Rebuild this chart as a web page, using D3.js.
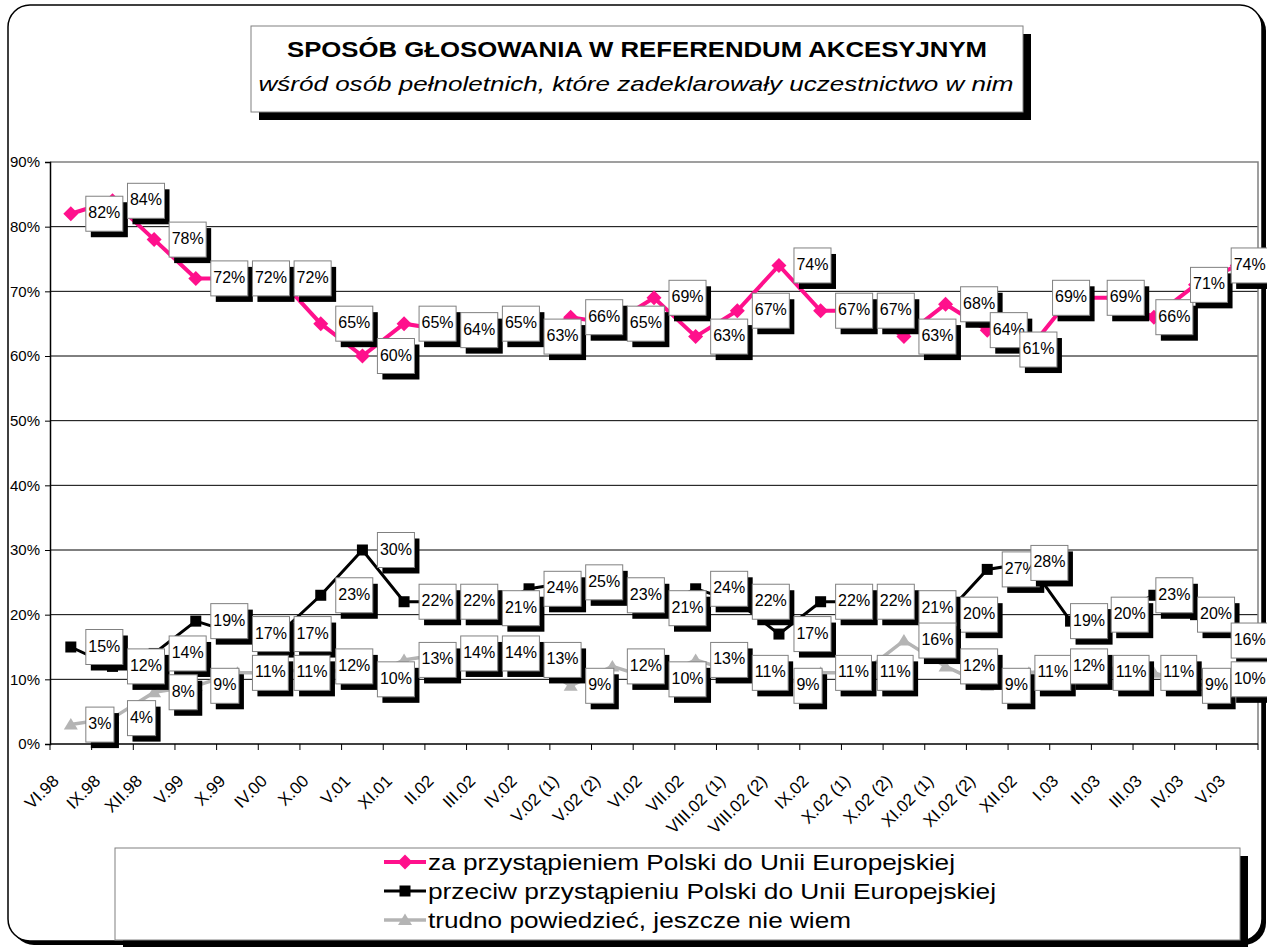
<!DOCTYPE html>
<html>
<head>
<meta charset="utf-8">
<script src="https://cdn.jsdelivr.net/npm/d3@7"></script>
<style>
  body { margin: 0; background: #fff; }
  svg { display: block; font-family: "Liberation Sans", Arial, sans-serif; }
</style>
</head>
<body>
<svg id="chart" width="1267" height="947"></svg>
<script>
var categories = ["VI.98", "IX.98", "XII.98", "V.99", "X.99", "IV.00", "X.00", "V.01", "XI.01",
  "II.02", "III.02", "IV.02", "V.02 (1)", "V.02 (2)", "VI.02", "VII.02", "VIII.02 (1)", "VIII.02 (2)",
  "IX.02", "X.02 (1)", "X.02 (2)", "XI.02 (1)", "XI.02 (2)", "XII.02", "I.03", "II.03", "III.03", "IV.03", "V.03"];

var za      = [82, 84, 78, 72, 72, 72, 65, 60, 65, 64, 65, 63, 66, 65, 69, 63, 67, 74, 67, 67, 63, 68, 64, 61, 69, 69, 66, 71, 74];
var przeciw = [15, 12, 14, 19, 17, 17, 23, 30, 22, 22, 21, 24, 25, 23, 21, 24, 22, 17, 22, 22, 21, 20, 27, 28, 19, 20, 23, 20, 16];
var trudno  = [3, 4, 8, 9, 11, 11, 12, 10, 13, 14, 14, 13, 9, 12, 10, 13, 11, 9, 11, 11, 16, 12, 9, 11, 12, 11, 11, 9, 10];

var yTicks = [0, 10, 20, 30, 40, 50, 60, 70, 80, 90];

var seriesNames = [
  "za przystąpieniem Polski do Unii Europejskiej",
  "przeciw przystąpieniu Polski do Unii Europejskiej",
  "trudno powiedzieć, jeszcze nie wiem"
];

// label boxes sit right of the point; a few near the right edge were moved by hand
var labelNudge = [
  {22: 3, 23: -9, 24: -18, 25: -5, 26: 2, 27: -5, 28: -6},
  {23: 2, 24: 0, 25: -1, 26: 2, 27: 2, 28: -6},
  {23: 6, 24: 0, 25: 1, 26: 7, 27: 7, 28: -6}
];

var series = [
  {name: seriesNames[0], values: za,      color: "#FF108C", width: 4,   marker: "diamond"},
  {name: seriesNames[1], values: przeciw, color: "#000000", width: 3,   marker: "square"},
  {name: seriesNames[2], values: trudno,  color: "#B4B4B4", width: 3.5, marker: "triangle"}
];

var svg = d3.select("#chart");
var plotLeft = 50, plotRight = 1258, plotTop = 162, plotBottom = 744;

var x = d3.scaleBand().domain(categories).range([plotLeft, plotRight]);
var y = d3.scaleLinear().domain([0, 90]).range([plotBottom, plotTop]);
var cx = function(i) { return x(categories[i]) + x.bandwidth() / 2; };

// outer frame
svg.append("rect").attr("x", 12).attr("y", 9).attr("width", 1254).attr("height", 936)
  .attr("rx", 22).attr("fill", "#000");
svg.append("rect").attr("x", 8).attr("y", 5).attr("width", 1254).attr("height", 936)
  .attr("rx", 22).attr("fill", "#fff").attr("stroke", "#000").attr("stroke-width", 1.5);

// title box
svg.append("rect").attr("x", 259).attr("y", 34).attr("width", 772).attr("height", 86).attr("fill", "#000");
svg.append("rect").attr("x", 251).attr("y", 26).attr("width", 772).attr("height", 86)
  .attr("fill", "#fff").attr("stroke", "#808080");
svg.append("text").attr("x", 637).attr("y", 57).attr("text-anchor", "middle")
  .attr("font-size", 22).attr("font-weight", "bold")
  .attr("textLength", 700).attr("lengthAdjust", "spacingAndGlyphs")
  .text("SPOSÓB GŁOSOWANIA W REFERENDUM AKCESYJNYM");
svg.append("text").attr("x", 636).attr("y", 91).attr("text-anchor", "middle")
  .attr("font-size", 21).attr("font-style", "italic")
  .attr("textLength", 755).attr("lengthAdjust", "spacingAndGlyphs")
  .text("wśród osób pełnoletnich, które zadeklarowały uczestnictwo w nim");

// gridlines
svg.append("g").selectAll("line").data(yTicks.filter(function(t) { return t > 0 && t < 90; }))
  .enter().append("line")
  .attr("x1", plotLeft).attr("x2", plotRight)
  .attr("y1", function(d) { return y(d); }).attr("y2", function(d) { return y(d); })
  .attr("stroke", "#000").attr("stroke-width", 1);

// plot border top/right
svg.append("path")
  .attr("d", "M" + plotLeft + "," + y(90) + "H" + plotRight + "V" + plotBottom)
  .attr("fill", "none").attr("stroke", "#808080").attr("stroke-width", 1.5);

// y axis
var yAxis = d3.axisLeft(y).tickValues(yTicks).tickSize(5).tickPadding(5)
  .tickFormat(function(d) { return d + "%"; });
var gy = svg.append("g").attr("transform", "translate(" + plotLeft + ",0)").call(yAxis);
gy.select(".domain").attr("stroke", "#000").attr("stroke-width", 1.5);
gy.selectAll(".tick line").attr("stroke", "#000");
gy.selectAll(".tick text").attr("font-size", 15).attr("fill", "#000")
  .attr("font-family", "'Liberation Sans', Arial, sans-serif");

// x axis line + ticks on category boundaries
svg.append("line").attr("x1", plotLeft).attr("x2", plotRight).attr("y1", plotBottom).attr("y2", plotBottom)
  .attr("stroke", "#000").attr("stroke-width", 1.5);
var bounds = categories.map(function(c) { return x(c); }).concat([plotRight]);
svg.append("g").selectAll("line").data(bounds).enter().append("line")
  .attr("x1", function(d) { return d; }).attr("x2", function(d) { return d; })
  .attr("y1", plotBottom).attr("y2", plotBottom + 6).attr("stroke", "#000");

svg.append("g").selectAll("text").data(categories).enter().append("text")
  .attr("transform", function(d, i) { return "translate(" + (cx(i) - 11) + ",782) rotate(-45)"; })
  .attr("text-anchor", "end").attr("font-size", 17)
  .text(function(d) { return d; });

// markers
function drawMarker(g, type, color, px, py) {
  if (type === "diamond") {
    g.append("path").attr("d", "M" + px + "," + (py - 7.5) + "L" + (px + 7.5) + "," + py + "L" + px + "," + (py + 7.5) + "L" + (px - 7.5) + "," + py + "Z")
      .attr("fill", color);
  } else if (type === "square") {
    g.append("rect").attr("x", px - 5.5).attr("y", py - 5.5).attr("width", 11).attr("height", 11).attr("fill", color);
  } else {
    g.append("path").attr("d", "M" + px + "," + (py - 6.5) + "L" + (px + 7) + "," + (py + 5) + "L" + (px - 7) + "," + (py + 5) + "Z")
      .attr("fill", color);
  }
}

var line = d3.line().x(function(d, i) { return cx(i); }).y(function(d) { return y(d); });

series.forEach(function(s) {
  var g = svg.append("g");
  g.append("path").datum(s.values).attr("d", line)
    .attr("fill", "none").attr("stroke", s.color).attr("stroke-width", s.width)
    .attr("stroke-linejoin", "miter");
  s.values.forEach(function(v, i) { drawMarker(g, s.marker, s.color, cx(i), y(v)); });
});

// data labels
series.forEach(function(s, si) {
  var g = svg.append("g");
  s.values.forEach(function(v, i) {
    var dx = labelNudge[si][i] !== undefined ? labelNudge[si][i] : 15;
    var bx = cx(i) + dx, by = y(v) - 17.5;
    var lg = g.append("g");
    var shadow = lg.append("rect").attr("fill", "#000");
    var box = lg.append("rect").attr("fill", "#fff").attr("stroke", "#808080").attr("stroke-width", 1);
    var t = lg.append("text").attr("font-size", 16).attr("x", bx + 2.5).attr("y", y(v) + 4.5).text(v + "%");
    var w = t.node().getComputedTextLength() + 5;
    shadow.attr("x", bx + 5).attr("y", by + 6).attr("width", w).attr("height", 35);
    box.attr("x", bx).attr("y", by).attr("width", w).attr("height", 35);
  });
});

// legend
svg.append("rect").attr("x", 123).attr("y", 856).attr("width", 1125).attr("height", 92).attr("fill", "#000");
svg.append("rect").attr("x", 115).attr("y", 848).attr("width", 1125).attr("height", 92)
  .attr("fill", "#fff").attr("stroke", "#808080");
var legendLen = [527, 568, 423];
series.forEach(function(s, i) {
  var ly = 862 + i * 29;
  var lg = svg.append("g");
  lg.append("line").attr("x1", 384).attr("x2", 426).attr("y1", ly).attr("y2", ly)
    .attr("stroke", s.color).attr("stroke-width", s.width);
  drawMarker(lg, s.marker, s.color, 405, ly);
  lg.append("text").attr("x", 428).attr("y", ly + 7.5).attr("font-size", 22)
    .attr("textLength", legendLen[i]).attr("lengthAdjust", "spacingAndGlyphs")
    .text(s.name);
});
</script>
</body>
</html>
